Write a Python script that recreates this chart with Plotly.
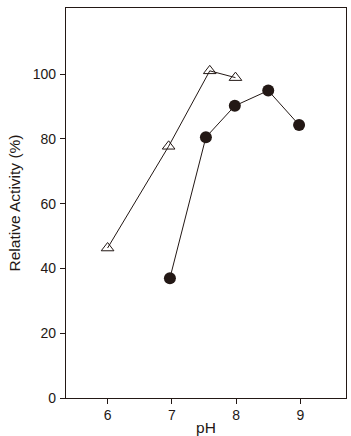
import plotly.graph_objects as go

tri_x = [6.0, 6.95, 7.59, 7.99]
tri_y = [46.3, 77.7, 101.0, 98.9]
cir_x = [6.97, 7.53, 7.98, 8.5, 8.98]
cir_y = [37.0, 80.5, 90.2, 94.9, 84.3]
x_ticks = [6, 7, 8, 9]
y_ticks = [0, 20, 40, 60, 80, 100]

ink = "#231815"
fig = go.Figure()
fig.add_trace(go.Scatter(x=tri_x, y=tri_y, mode="lines+markers",
                         line=dict(color=ink, width=1),
                         marker=dict(symbol="triangle-up-open", size=11, color=ink,
                                     line=dict(width=1, color=ink))))
fig.add_trace(go.Scatter(x=cir_x, y=cir_y, mode="lines+markers",
                         line=dict(color=ink, width=1),
                         marker=dict(symbol="circle", size=12, color=ink)))

fig.update_layout(
    width=351, height=436,
    margin=dict(l=66, r=5, t=8, b=38),
    paper_bgcolor="white", plot_bgcolor="white",
    showlegend=False,
    font=dict(family="Liberation Sans, Arial, sans-serif", color=ink, size=14),
    xaxis=dict(range=[5.353, 9.71], tickvals=x_ticks, ticks="outside", ticklen=5,
               tickcolor=ink, tickwidth=1, showline=True, linecolor=ink, linewidth=1.3,
               mirror=True, showgrid=False, zeroline=False, ticklabelstandoff=-1,
               title=dict(text="pH", font=dict(size=15.5), standoff=0),
               automargin=False, tickfont=dict(size=14)),
    yaxis=dict(range=[0, 120.4], tickvals=y_ticks, ticks="outside", ticklen=5,
               tickcolor=ink, tickwidth=1, showline=True, linecolor=ink, linewidth=1.3,
               mirror=True, showgrid=False, zeroline=False, ticklabelstandoff=1,
               title=dict(text="Relative Activity (%)", font=dict(size=15.5), standoff=8),
               automargin=False, tickfont=dict(size=14)),
)
fig.write_html("out.html")
